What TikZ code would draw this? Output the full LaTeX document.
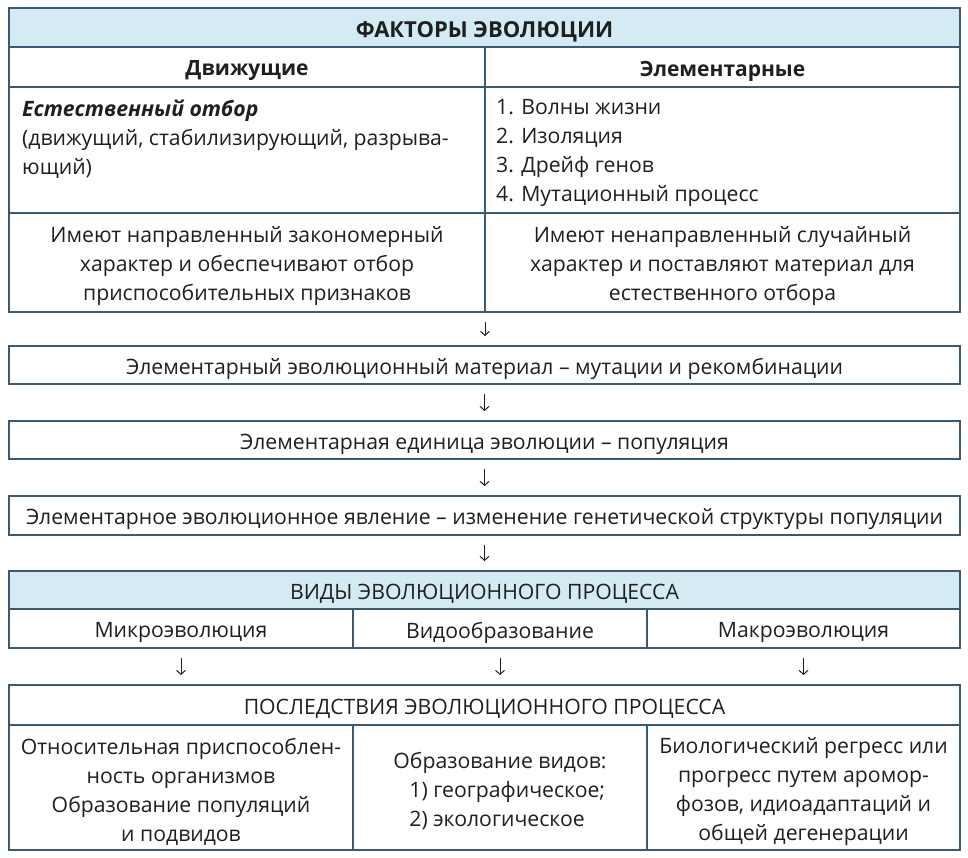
\documentclass[tikz,border=0pt]{standalone}
\usepackage{fontspec}
\setmainfont{Open Sans}
\usetikzlibrary{arrows.meta}

\begin{document}
\begin{tikzpicture}[x=1pt,y=-1pt,
  box/.style={draw=Rim,line width=1.4pt,anchor=north west,outer sep=0pt,inner sep=0pt},
  head/.style={box,fill=Sky},
  lab/.style={yshift=-4pt,inner sep=0pt,text=Ink,font=\fontsize{21.2}{29}\selectfont,align=center},
  txt/.style={anchor=north west,inner sep=0pt,text=Ink,font=\fontsize{21.2}{29}\selectfont,align=left},
  arr/.style={draw=Ink,line width=1pt,-{Straight Barb[length=4pt,width=9pt]},shorten <=10pt,shorten >=10pt}]

\useasboundingbox (0,0) rectangle (968,858);

%Defining colors
\definecolor{Rim}{HTML}{3A5A73}
\definecolor{Sky}{HTML}{D4EBF4}
\colorlet{Ink}{black!88}

%Factors table
\node[head,minimum width=951pt,minimum height=39pt] (fak) at (9,8) {};
\node[box,minimum width=476pt,minimum height=40pt] (dv) at (9,47) {};
\node[box,minimum width=475pt,minimum height=40pt] (el) at (485,47) {};
\node[box,minimum width=476pt,minimum height=126pt] (dvl) at (9,87) {};
\node[box,minimum width=475pt,minimum height=126pt] (ell) at (485,87) {};
\node[box,minimum width=476pt,minimum height=99pt] (dvh) at (9,213) {};
\node[box,minimum width=475pt,minimum height=99pt] (elh) at (485,213) {};

\node[lab,font=\fontsize{22}{29}\selectfont\bfseries] (fakT) at (fak) {ФАКТОРЫ ЭВОЛЮЦИИ};
\node[lab,font=\fontsize{21}{29}\selectfont\bfseries] (dvT) at (dv) {Движущие};
\node[lab,font=\fontsize{21}{29}\selectfont\bfseries] (elT) at (el) {Элементарные};
\node[txt] (otb) at (22,99.5) {\bfseries\itshape Естественный отбор\\(движущий, стабилизирующий, разрыва-\\ющий)};
\node[txt] (lst) at (496,99.5) {1. Волны жизни\\2. Изоляция\\3. Дрейф генов\\4. Мутационный процесс};
\node[lab] (dvhT) at (dvh) {Имеют направленный закономерный\\характер и обеспечивают отбор\\приспособительных признаков};
\node[lab] (elhT) at (elh) {Имеют ненаправленный случайный\\характер и поставляют материал для\\естественного отбора};

%Chain
\node[box,minimum width=951pt,minimum height=38pt] (mat) at (9,346) {};
\node[box,minimum width=951pt,minimum height=38pt] (edn) at (9,421) {};
\node[box,minimum width=951pt,minimum height=39pt] (yav) at (9,496) {};
\node[lab] (matT) at (mat) {Элементарный эволюционный материал – мутации и рекомбинации};
\node[lab] (ednT) at (edn) {Элементарная единица эволюции – популяция};
\node[lab] (yavT) at (yav) {Элементарное эволюционное явление – изменение генетической структуры популяции};

%Kinds
\node[head,minimum width=951pt,minimum height=38pt] (vid) at (9,571) {};
\node[box,minimum width=344pt,minimum height=39pt] (mik) at (9,609) {};
\node[box,minimum width=294pt,minimum height=39pt] (vob) at (353,609) {};
\node[box,minimum width=313pt,minimum height=39pt] (mak) at (647,609) {};
\node[lab] (vidT) at (vid) {ВИДЫ ЭВОЛЮЦИОННОГО ПРОЦЕССА};
\node[lab] (mikT) at (mik) {Микроэволюция};
\node[lab] (vobT) at (vob) {Видообразование};
\node[lab] (makT) at (mak) {Макроэволюция};

%Results
\node[box,minimum width=951pt,minimum height=40pt] (pos) at (9,685) {};
\node[box,minimum width=344pt,minimum height=125pt] (res1) at (9,725) {};
\node[box,minimum width=294pt,minimum height=125pt] (res2) at (353,725) {};
\node[box,minimum width=313pt,minimum height=125pt] (res3) at (647,725) {};
\node[lab] (posT) at (pos) {ПОСЛЕДСТВИЯ ЭВОЛЮЦИОННОГО ПРОЦЕССА};
\node[lab] (res1T) at (res1) {Относительная приспособлен-\\ность организмов\\Образование популяций\\и подвидов};
\node[lab,align=left] (res2T) at (res2) {Образование видов:\\\hspace*{16pt}1) географическое;\\\hspace*{16pt}2) экологическое};
\node[lab] (res3T) at (res3) {Биологический регресс или\\прогресс путем аромор-\\фозов, идиоадаптаций и\\общей дегенерации};

%Arrows
\draw[arr] (dvh.south east) -- (dvh.south east |- mat.north);
\draw[arr] (mat.south) -- (edn.north);
\draw[arr] (edn.south) -- (yav.north);
\draw[arr] (yav.south) -- (vid.north);
\draw[arr] (mik.south) -- (mik.south |- pos.north);
\draw[arr] (vob.south) -- (vob.south |- pos.north);
\draw[arr] (mak.south) -- (mak.south |- pos.north);

\end{tikzpicture}
\end{document}
